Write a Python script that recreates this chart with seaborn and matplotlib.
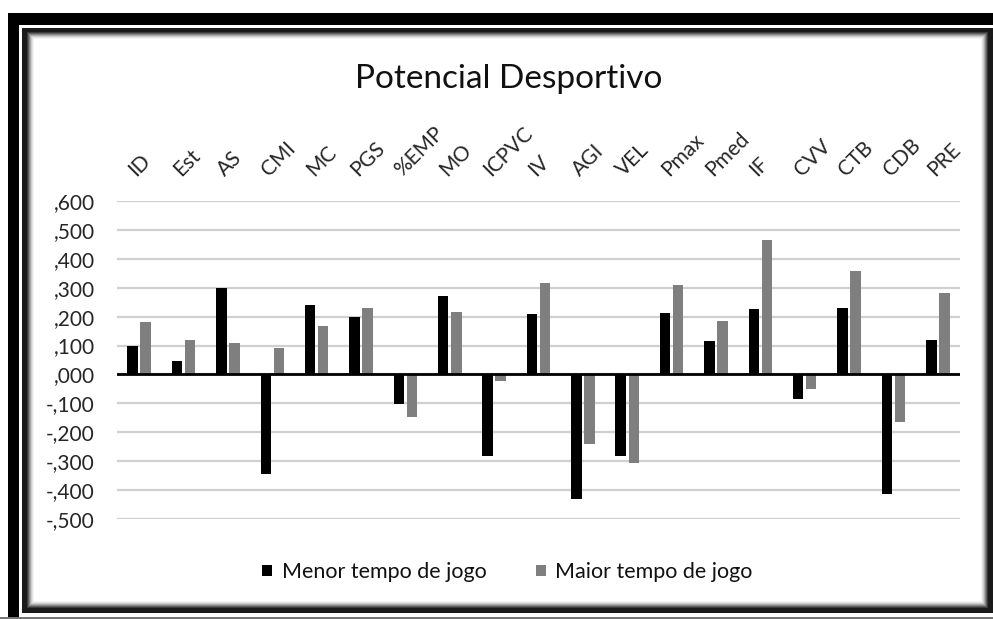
import matplotlib
matplotlib.use("Agg")
import matplotlib.pyplot as plt
from matplotlib.patches import Rectangle
from matplotlib.ticker import FuncFormatter
import seaborn as sns
import pandas as pd

# Variables of the sporting potential profile
categories = ["ID", "Est", "AS", "CMI", "MC", "PGS", "%EMP", "MO", "ICPVC", "IV",
              "AGI", "VEL", "Pmax", "Pmed", "IF", "CVV", "CTB", "CDB", "PRE"]

menor_tempo = [0.098, 0.047, 0.298, -0.344, 0.239, 0.200, -0.103, 0.271, -0.282, 0.208,
               -0.432, -0.282, 0.213, 0.114, 0.226, -0.086, 0.231, -0.415, 0.118]
maior_tempo = [0.181, 0.118, 0.108, 0.091, 0.167, 0.230, -0.148, 0.217, -0.022, 0.316,
               -0.240, -0.307, 0.310, 0.186, 0.464, -0.050, 0.358, -0.165, 0.283]

series_names = ["Menor tempo de jogo", "Maior tempo de jogo"]
series_colors = ["#000000", "#7f7f7f"]
y_ticks = [0.6, 0.5, 0.4, 0.3, 0.2, 0.1, 0.0, -0.1, -0.2, -0.3, -0.4, -0.5]

df = pd.DataFrame({
    "var": categories * 2,
    "valor": menor_tempo + maior_tempo,
    "grupo": [series_names[0]] * len(categories) + [series_names[1]] * len(categories),
})

sns.set_theme(style="white")
plt.rcParams["font.family"] = ["Lato", "DejaVu Sans"]
plt.rcParams["text.color"] = "#111111"

fig = plt.figure(figsize=(9.93, 6.19), dpi=100)
W, H = 993, 619


def px_rect(x0, y0, x1, y1, **kw):
    """Rectangle given in pixel coordinates (top-left origin)."""
    fig.patches.append(Rectangle((x0 / W, 1 - y1 / H), (x1 - x0) / W, (y1 - y0) / H,
                                 transform=fig.transFigure, zorder=-10, **kw))


# Outer heavy frame
px_rect(8, 13, 993, 25, color="black", lw=0)
px_rect(8, 13, 19, 619, color="black", lw=0)
px_rect(0, 617, 993, 619, color="#777777", lw=0)
# Inner frame with a soft inner shadow
px_rect(22, 28, 993, 613, facecolor="#1a1a1a", lw=0)
shades = ["#3a3a3a", "#5e5e5e", "#858585", "#aaaaaa", "#cbcbcb", "#e3e3e3", "#f3f3f3", "#ffffff"]
for i, c in enumerate(shades):
    px_rect(27 + i, 32 + i, 988 - i, 608 - i, facecolor=c, lw=0)

ax = fig.add_axes([117 / W, 1 - 519 / H, (960 - 117) / W, (519 - 201) / H])
ax.patch.set_alpha(0)
ax.set_zorder(5)

sns.barplot(data=df, x="var", y="valor", hue="grupo", hue_order=series_names,
            palette=series_colors, width=0.59, gap=0.2, linewidth=0, ax=ax,
            order=categories, saturation=1)

ax.set_ylim(-0.5, 0.6)
ax.set_xlim(-0.5, len(categories) - 0.5)
ax.set_yticks(y_ticks)
ax.yaxis.set_major_formatter(FuncFormatter(lambda v, _: f"{v:.3f}".replace("0.", ",")))
ax.grid(axis="y", color="#d0d0d0", linewidth=1.6, zorder=0)
ax.set_axisbelow(True)
ax.axhline(0, color="black", linewidth=2.0, zorder=3)
for s in ax.spines.values():
    s.set_visible(False)

ax.xaxis.tick_top()
ax.set_xticks(range(len(categories)))
ax.set_xticklabels(categories, rotation=45, ha="left", va="bottom",
                   rotation_mode="anchor", fontsize=15)
ax.tick_params(axis="x", length=0, pad=15)
ax.tick_params(axis="y", length=0, pad=16, labelsize=15)
ax.set_xlabel("")
ax.set_ylabel("")

handles, labels = ax.get_legend_handles_labels()
ax.legend_.remove()
fig.legend(handles, labels, loc="center", bbox_to_anchor=(0.511, 1 - 572 / H),
           ncol=2, frameon=False, fontsize=15.5, handlelength=0.45, handleheight=0.45,
           handletextpad=0.45, columnspacing=2.3)

fig.text(0.512, 1 - 79 / H, "Potencial Desportivo", ha="center", va="center", fontsize=24)

fig.savefig("out.png", dpi=100, facecolor="white")
